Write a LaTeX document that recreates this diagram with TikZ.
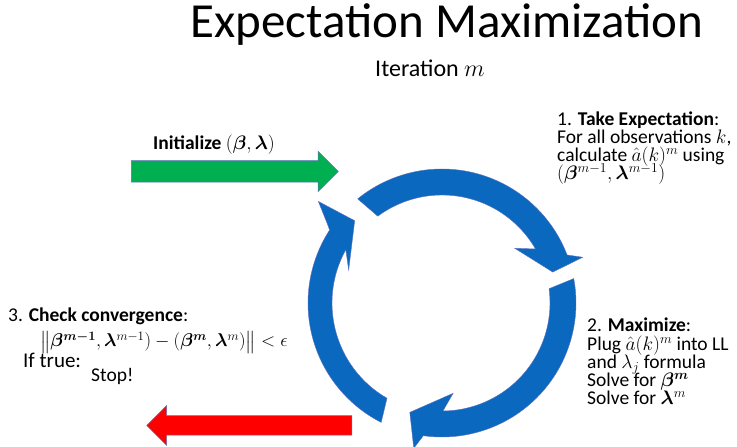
\documentclass[tikz,border=0pt]{standalone}
\usepackage{fix-cm}
\usepackage{amsmath,amssymb}
\usepackage{bm}
\usepackage{fontspec}
\setmainfont{Carlito}
\usepackage{xcolor}
\usepackage{tikz}
\usetikzlibrary{positioning,shapes.arrows}

\definecolor{cycblue}{RGB}{10,104,190}
\definecolor{initgreen}{RGB}{0,176,80}
\definecolor{stopred}{RGB}{255,0,0}
\definecolor{rimblue}{RGB}{96,112,190}

\newcommand\stepfont{\fontsize{19.5}{18.3}\selectfont\lineskiplimit=-20pt\relax}

\begin{document}
\begin{tikzpicture}[
  x=1pt, y=1pt,
  txt/.style={inner sep=0pt, align=left, anchor=base west, font=\stepfont},
  blockarr/.style={single arrow, draw=rimblue, line width=0.5pt, inner xsep=0pt,
                   inner ysep=10.5pt, single arrow head extend=9.5pt},
  cyc/.style={fill=cycblue, draw=rimblue, line width=0.4pt}
]
\useasboundingbox (0,0) rectangle (737,447);

\node[anchor=base, font=\fontsize{49}{56}\selectfont] (title) at (447,409) {Expectation Maximization};
\node[anchor=base, font=\fontsize{24}{28}\selectfont] (iter) at (430,370) {Iteration $m$};

% start and stop arrows
\node[blockarr, fill=initgreen, minimum height=207pt, anchor=tail] (init) at (131,275.5) {};
\node[txt, font=\fontsize{19.5}{22}\selectfont\bfseries] (initlbl) at (153,297) {Initialize $(\bm{\beta},\bm{\lambda})$};
\node[blockarr, fill=stopred, shape border rotate=180, inner ysep=9.5pt,
      single arrow head extend=10pt, minimum height=205pt, anchor=tail] (stoparr) at (352,21.5) {};

% the three arrows of the cycle
\begin{scope}[shift={(442,144)}]
  \fill[cyc] (129:134) arc[start angle=129, end angle=21, radius=134]
    -- (18:148) -- (15.6:115) -- (37:91) -- (30:108)
    arc[start angle=30, end angle=126.5, radius=108] -- cycle;
  \fill[cyc] (10.5:134) arc[start angle=10.5, end angle=-98, radius=134]
    -- (-101:148) -- (-106.4:114) -- (-83:91) -- (-89.5:108)
    arc[start angle=-89.5, end angle=7.6, radius=108] -- cycle;
  \fill[cyc] (243:134) arc[start angle=243, end angle=147, radius=134]
    -- (145.2:140) -- (140.6:160) -- (136.7:120) -- (160.5:99) -- (151:110)
    arc[start angle=151, end angle=240, radius=110] -- cycle;
\end{scope}

% step texts (base = last line)
\node[txt] (expect) at (557,267) {1. \textbf{Take Expectation}:\\
  For all observations $k$,\\
  calculate $\hat{a}(k)^m$ using\\
  $(\bm{\beta}^{m-1},\bm{\lambda}^{m-1})$};
\node[txt] (maxim) at (587,42) {2. \textbf{Maximize}:\\
  Plug $\hat{a}(k)^m$ into LL\\
  and $\lambda_j$ formula\\
  Solve for $\bm{\beta}^{\bm{m}}$\\
  Solve for $\bm{\lambda}^m$};
\node[txt] (conv) at (8,125) {3. \textbf{Check convergence}:};
\node[txt, font=\fontsize{18.5}{20}\selectfont] (crit) at (40,100) {$\big\|\bm{\beta}^{\bm{m-1}},\bm{\lambda}^{m-1})-(\bm{\beta}^{\bm{m}},\bm{\lambda}^{m})\big\|<\epsilon$};
\node[txt, font=\fontsize{21}{24}\selectfont] (iftrue) at (23,79) {If true:};
\node[txt, font=\fontsize{19.5}{20}\selectfont] (stop) at (91,65) {Stop!};
\end{tikzpicture}
\end{document}
